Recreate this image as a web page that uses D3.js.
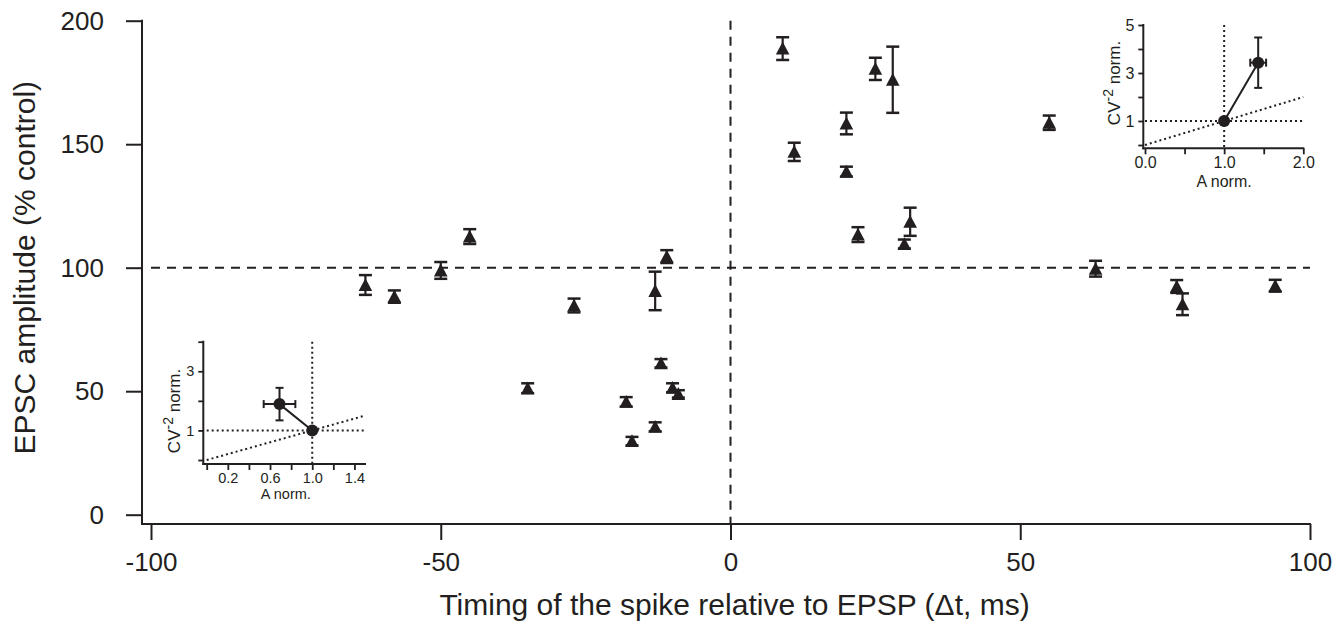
<!DOCTYPE html>
<html><head><meta charset="utf-8">
<script src="https://cdn.jsdelivr.net/npm/d3@7"></script>
<style>
html,body{margin:0;padding:0;background:#fff;}
svg{display:block;font-family:"Liberation Sans",Arial,Helvetica,sans-serif;}
</style></head>
<body>
<svg id="chart" width="1344" height="627"></svg>
<script>
// ---- main data ----
const timingMs = [-63,-58,-50,-45,-35,-27,-18,-17,-13,-13,-12,-11,-10,-9,9,11,20,20,22,25,28,30,31,55,63,77,78,94];
const amplitudePct = [93.0,88.3,98.9,112.6,51.2,84.7,45.7,29.8,90.6,35.6,61.3,104.5,51.4,48.9,188.7,146.9,158.4,138.9,113.4,180.5,176.1,109.6,118.6,158.7,99.6,92.4,85.2,92.7];
const amplitudeErr = [4.0,2.5,3.4,3.0,2.0,2.8,1.9,1.7,7.8,1.8,1.7,2.6,1.8,1.5,4.6,3.7,4.4,2.0,3.0,4.5,13.4,1.8,5.7,2.9,3.2,2.6,4.4,2.4];
const xTicks = [-100,-50,0,50,100];
const yTicks = [0,50,100,150,200];

// ---- inset (right, spike after EPSP) ----
const insetR_A = [1.0, 1.43];
const insetR_CV = [1.0, 3.43];
const insetR_Aerr = [0, 0.1];
const insetR_CVerr = [0, 1.05];
const insetR_xTicks = [0,0.5,1,1.5,2];
const insetR_xLabels = {"0":"0.0","1":"1.0","2":"2.0"};
const insetR_yTicks = [0,1,2,3,4,5];
const insetR_yLabels = {1:"1",3:"3",5:"5"};

// ---- inset (left, spike before EPSP) ----
const insetL_A = [1.0, 0.69];
const insetL_CV = [1.0, 1.89];
const insetL_Aerr = [0, 0.15];
const insetL_CVerr = [0, 0.55];
const insetL_xTicks = [0,0.2,0.4,0.6,0.8,1.0,1.2,1.4];
const insetL_xLabels = {"0.2":"0.2","0.6":"0.6","1":"1.0","1.4":"1.4"};
const insetL_yTicks = [0,1,2,3,4];
const insetL_yLabels = {1:"1",3:"3"};

const INK = "#231f20";
const FONT = "'Liberation Sans',Arial,sans-serif";
const svg = d3.select("#chart");

// ---- main scales ----
const x = d3.scaleLinear().domain([-100,100]).range([151,1310]);
const y = d3.scaleLinear().domain([0,200]).range([514.7,20.7]);
const axisX = 142, axisY = 524;

// reference lines
svg.append("line").attr("x1",x(-100)).attr("x2",x(100)).attr("y1",y(100)).attr("y2",y(100))
  .attr("stroke",INK).attr("stroke-width",2).attr("stroke-dasharray","9,7");
svg.append("line").attr("x1",x(0)).attr("x2",x(0)).attr("y1",y(200)).attr("y2",axisY)
  .attr("stroke",INK).attr("stroke-width",2).attr("stroke-dasharray","9,7");

// axes
const fmt = v => String(v).replace("\u2212","-");
const gy = svg.append("g").attr("transform",`translate(${axisX},0)`)
  .call(d3.axisLeft(y).tickValues(yTicks).tickSize(16).tickSizeOuter(0).tickPadding(22).tickFormat(fmt));
const gx = svg.append("g").attr("transform",`translate(0,${axisY})`)
  .call(d3.axisBottom(x).tickValues(xTicks).tickSize(16).tickSizeOuter(0).tickPadding(13).tickFormat(fmt));
[gx,gy].forEach(g=>{
  g.select(".domain").remove();
  g.selectAll(".tick line").attr("stroke",INK).attr("stroke-width",2);
  g.selectAll(".tick text").attr("fill",INK).style("font-size","26px").style("font-family",FONT);
});
svg.append("line").attr("x1",axisX).attr("x2",axisX).attr("y1",y(200)-1).attr("y2",axisY+1)
  .attr("stroke",INK).attr("stroke-width",2);
svg.append("line").attr("x1",axisX-1).attr("x2",x(100)+1).attr("y1",axisY).attr("y2",axisY)
  .attr("stroke",INK).attr("stroke-width",2);

// titles
svg.append("text").attr("x",x(0)+4).attr("y",615).attr("text-anchor","middle")
  .attr("fill",INK).style("font-size","30px").text("Timing of the spike relative to EPSP (\u0394t, ms)");
svg.append("text").attr("transform",`translate(35,${y(100)}) rotate(-90)`).attr("text-anchor","middle")
  .attr("fill",INK).style("font-size","30px").text("EPSC amplitude (% control)");

// data marks
const pts = timingMs.map((t,i)=>({t, a:amplitudePct[i], e:amplitudeErr[i]}));
const eb = svg.append("g").attr("stroke",INK).attr("stroke-width",2.2);
pts.forEach(d=>{
  const cx = x(d.t), y1 = y(d.a+d.e), y2 = y(d.a-d.e);
  eb.append("line").attr("x1",cx).attr("x2",cx).attr("y1",y1).attr("y2",y2);
  eb.append("line").attr("x1",cx-6.5).attr("x2",cx+6.5).attr("y1",y1).attr("y2",y1).attr("stroke-width",2.5);
  eb.append("line").attr("x1",cx-6.5).attr("x2",cx+6.5).attr("y1",y2).attr("y2",y2).attr("stroke-width",2.5);
});
svg.append("g").selectAll("path").data(pts).join("path")
  .attr("transform",d=>`translate(${x(d.t)},${y(d.a)})`)
  .attr("d","M0,-6.8L6.8,6L-6.8,6Z").attr("fill",INK);

// ---- inset builder ----
function inset(cfg){
  const g = svg.append("g");
  const ix = d3.scaleLinear().domain(cfg.xDom).range(cfg.xRange);
  const iy = d3.scaleLinear().domain(cfg.yDom).range(cfg.yRange);
  const addLine=(x1,y1,x2,y2)=>g.append("line").attr("x1",x1).attr("y1",y1).attr("x2",x2).attr("y2",y2)
    .attr("stroke",INK).attr("stroke-width",2).attr("stroke-dasharray","2,3");
  addLine(ix(0),iy(1),ix(cfg.xDom[1]),iy(1));
  addLine(ix(1),iy(cfg.yDom[1]),ix(1),cfg.axisYpos);
  addLine(ix(0),iy(0),ix(cfg.xDom[1]),iy(cfg.xDom[1]));
  // axes
  const ay = g.append("g").attr("transform",`translate(${cfg.axisXpos},0)`)
    .call(d3.axisLeft(iy).tickValues(cfg.yTicks).tickSize(5).tickSizeOuter(0).tickPadding(4)
      .tickFormat(v=>cfg.yLabels[v]||""));
  const ax = g.append("g").attr("transform",`translate(0,${cfg.axisYpos})`)
    .call(d3.axisBottom(ix).tickValues(cfg.xTicks).tickSize(6).tickSizeOuter(0).tickPadding(cfg.xPad)
      .tickFormat(v=>cfg.xLabels[String(+v.toFixed(1))]||""));
  [ax,ay].forEach(a=>{
    a.select(".domain").remove();
    a.selectAll(".tick line").attr("stroke",INK).attr("stroke-width",1.8);
    a.selectAll(".tick text").attr("fill",INK).style("font-size",cfg.fs+"px").style("font-family",FONT);
  });
  g.append("line").attr("x1",cfg.axisXpos).attr("x2",cfg.axisXpos).attr("y1",iy(cfg.yDom[1])-1).attr("y2",cfg.axisYpos+1)
    .attr("stroke",INK).attr("stroke-width",2);
  g.append("line").attr("x1",cfg.axisXpos-1).attr("x2",ix(cfg.xDom[1])+1).attr("y1",cfg.axisYpos).attr("y2",cfg.axisYpos)
    .attr("stroke",INK).attr("stroke-width",2);
  // labels
  g.append("text").attr("x",(ix(cfg.xDom[0])+ix(cfg.xDom[1]))/2+cfg.xTitleDx).attr("y",cfg.axisYpos+cfg.xTitleDy)
    .attr("text-anchor","middle").attr("fill",INK).style("font-size",cfg.fs+"px").text("A norm.");
  const yl = g.append("text").attr("transform",`translate(${cfg.yTitleX},${cfg.yTitleY}) rotate(-90)`)
    .attr("text-anchor","middle").attr("fill",INK).style("font-size","17px");
  yl.append("tspan").text("CV");
  yl.append("tspan").attr("dy",-7).style("font-size","14px").text("-2");
  yl.append("tspan").attr("dy",7).text(" norm.");
  // data
  const d = cfg.A.map((a,i)=>({a, c:cfg.CV[i], ea:cfg.Aerr[i], ec:cfg.CVerr[i]}));
  g.append("path").datum(d).attr("d",d3.line().x(p=>ix(p.a)).y(p=>iy(p.c)))
    .attr("fill","none").attr("stroke",INK).attr("stroke-width",2);
  d.forEach(p=>{
    if(p.ec>0){
      g.append("line").attr("x1",ix(p.a)).attr("x2",ix(p.a)).attr("y1",iy(p.c+p.ec)).attr("y2",iy(p.c-p.ec)).attr("stroke",INK).attr("stroke-width",2);
      [p.c+p.ec,p.c-p.ec].forEach(v=>g.append("line").attr("x1",ix(p.a)-4).attr("x2",ix(p.a)+4).attr("y1",iy(v)).attr("y2",iy(v)).attr("stroke",INK).attr("stroke-width",2));
    }
    if(p.ea>0){
      g.append("line").attr("x1",ix(p.a-p.ea)).attr("x2",ix(p.a+p.ea)).attr("y1",iy(p.c)).attr("y2",iy(p.c)).attr("stroke",INK).attr("stroke-width",2);
      [p.a-p.ea,p.a+p.ea].forEach(v=>g.append("line").attr("x1",ix(v)).attr("x2",ix(v)).attr("y1",iy(p.c)-4).attr("y2",iy(p.c)+4).attr("stroke",INK).attr("stroke-width",2));
    }
  });
  g.selectAll("circle").data(d).join("circle").attr("cx",p=>ix(p.a)).attr("cy",p=>iy(p.c)).attr("r",6).attr("fill",INK);
}

inset({xDom:[0,2], xRange:[1145,1303.3], yDom:[0,5], yRange:[145,25],
  axisXpos:1143.3, axisYpos:148.3, xTicks:insetR_xTicks, xLabels:insetR_xLabels,
  yTicks:insetR_yTicks, yLabels:insetR_yLabels, xTitleDx:0, xTitleDy:39, xPad:2, fs:16,
  yTitleX:1120, yTitleY:83,
  A:insetR_A, CV:insetR_CV, Aerr:insetR_Aerr, CVerr:insetR_CVerr});

inset({xDom:[0,1.5], xRange:[206.7,365], yDom:[0,4], yRange:[460,341.7],
  axisXpos:203.3, axisYpos:464, xTicks:insetL_xTicks, xLabels:insetL_xLabels,
  yTicks:insetL_yTicks, yLabels:insetL_yLabels, xTitleDx:0, xTitleDy:35, xPad:3, fs:14.5,
  yTitleX:180, yTitleY:411,
  A:insetL_A, CV:insetL_CV, Aerr:insetL_Aerr, CVerr:insetL_CVerr});
</script>
</body></html>
